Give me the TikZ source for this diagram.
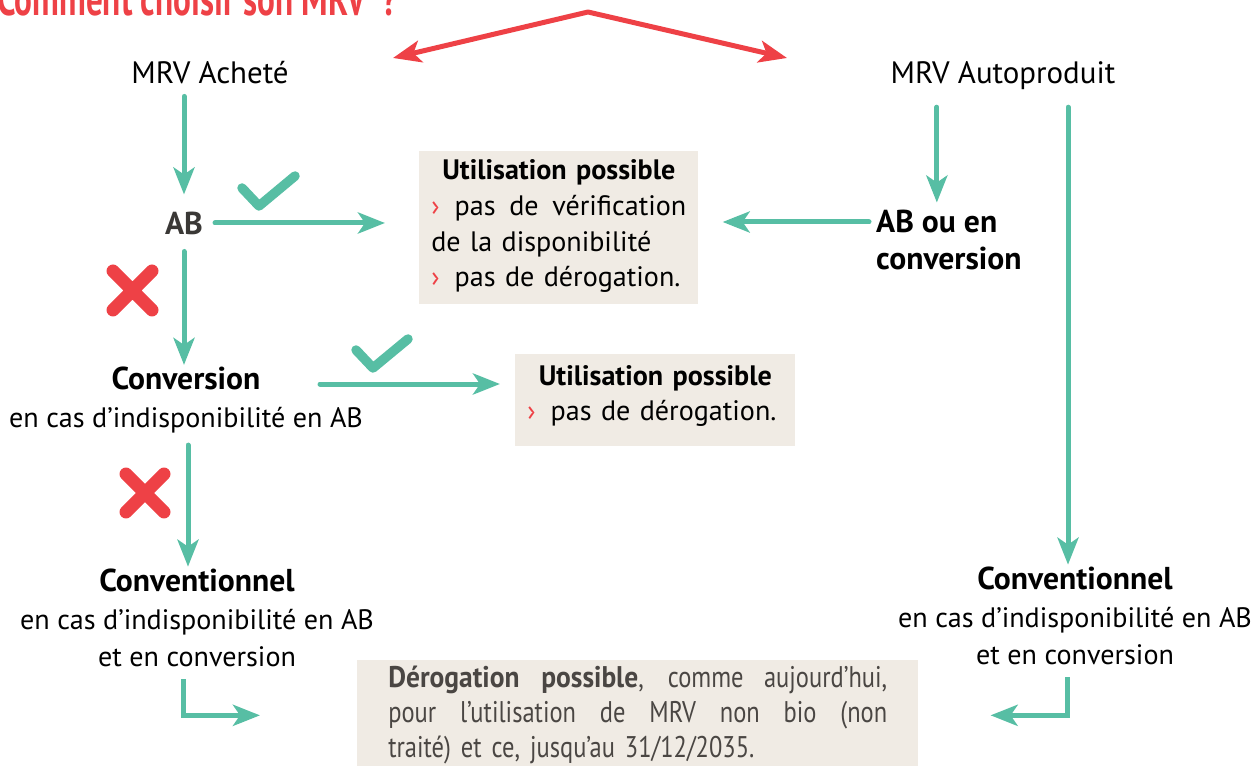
\documentclass[tikz,border=0pt]{standalone}
\usepackage{fontspec}
\setmainfont{PT Sans}
\newfontfamily\narrowfont[FakeStretch=0.82]{PT Sans}
\newfontfamily\narrowgras[FakeStretch=0.92]{PT Sans}
\newfontfamily\titlefont[FakeStretch=0.7]{PT Sans}
\usetikzlibrary{arrows.meta,positioning,calc}
\definecolor{vert}{HTML}{57BEA4}
\definecolor{rouge}{HTML}{EE4146}
\definecolor{beige}{HTML}{F0EBE4}
\definecolor{grisab}{HTML}{3A3836}
\definecolor{gristexte}{HTML}{4A4643}
\newcommand\puce{\textcolor{rouge}{›}\hspace{0.3cm}}
\newcommand\gras[1]{{\fontsize{18}{21.5}\selectfont\bfseries #1}}
\newcommand\ligne[1]{{\spaceskip=0pt\xspaceskip=0pt\makebox[\hsize][s]{#1}}}
\tikzset{
  lbl/.style={inner sep=1pt, align=center, font=\fontsize{16}{21.5}\selectfont},
  choix/.style={lbl, font=\fontsize{17.6}{21.5}\selectfont},
  boite/.style={fill=beige, inner xsep=0.24cm, inner ysep=0.1cm, align=left, font=\fontsize{16}{20}\selectfont},
  flow/.style={draw=vert, line width=0.1cm, -{Stealth[length=0.54cm,width=0.42cm,inset=0.14cm]}},
  flecherouge/.style={draw=rouge, line width=0.1cm, line join=round, {Stealth[length=0.56cm,width=0.44cm,inset=0.14cm]}-{Stealth[length=0.56cm,width=0.44cm,inset=0.14cm]}},
  ok/.style={draw=vert, line width=0.19cm, line cap=round, line join=round},
  non/.style={draw=rouge, line width=0.26cm, line cap=round},
}
\begin{document}
\begin{tikzpicture}[x=0.02cm, y=-0.02cm, line cap=round]
  \useasboundingbox (0,0) rectangle (1254,766);
  % titre (coupé en haut)
  \node[anchor=base west, inner sep=0, text=rouge, font=\titlefont\bfseries\fontsize{27}{30}\selectfont] (titre) at (-3,16) {Comment choisir son MRV\,\,?};
  \coordinate (pointeA) at (393,58);
  \coordinate (sommet) at (588,12);
  \coordinate (pointeB) at (787,58);
  \draw[flecherouge] (pointeA) -- (sommet) -- (pointeB);

  % colonne MRV achete
  \node[choix] (achete) at (210,73) {MRV Acheté};
  \node[lbl, text=grisab] (ab) at (184,223) {\gras{AB}};
  \node[lbl] (conv) at (186,400) {\gras{Conversion}\\en cas d’indisponibilité en AB};
  \node[lbl] (conva) at (197,618) {\gras{Conventionnel}\\en cas d’indisponibilité en AB\\et en conversion};

  % colonne MRV autoproduit
  \node[choix] (auto) at (1003,76) {MRV Autoproduit};
  \node[lbl, anchor=west, align=left] (abconv) at (874,240) {\gras{AB ou en}\\\gras{conversion}};
  \node[lbl] (convb) at (1075,616) {\gras{Conventionnel}\\en cas d’indisponibilité en AB\\et en conversion};

  % encadres
  \node[boite, anchor=north west, text width=5.1cm, minimum height=3.06cm] (util1) at (419,151)
    {{\centering\bfseries Utilisation possible\par}\vspace{0.03cm}
     \ligne{\puce pas de vérification}\par
     de la disponibilité\par
     \puce pas de dérogation.\par\vspace{-0.5cm}\hbox{}};
  \node[boite, anchor=north west, text width=5.12cm, minimum height=1.84cm] (util2) at (515,354)
    {{\centering\bfseries Utilisation possible\par}
     \puce pas de dérogation.\par\vspace{-0.42cm}\hbox{}};
  \node[boite, anchor=north west, text width=9.98cm, inner xsep=0.62cm, minimum height=2.2cm, text=gristexte,
        font=\narrowfont\fontsize{17}{20}\selectfont] (deroga) at (357,660)
    {\ligne{{\narrowgras\bfseries Dérogation possible}, comme aujourd’hui,}\par
     \ligne{pour l’utilisation de MRV non bio (non}\par
     traité) et ce, jusqu’au 31/12/2035.};

  % fleches
  \draw[flow, shorten <=0.2cm] (achete.south -| ab.north) -- ([yshift=0.3cm]ab.north);
  \draw[flow, shorten <=0.2cm, shorten >=0.68cm] (ab.east) -- (ab.east -| util1.west);
  \coordinate (abentree) at ([yshift=0.36cm]abconv.west);
  \draw[flow, shorten <=0.1cm, shorten >=0.48cm] (abentree) -- (abentree -| util1.east);
  \draw[flow, shorten <=0.3cm] ([xshift=-0.24cm]auto.south -| abconv.north) -- ([xshift=-0.24cm, yshift=0.1cm]abconv.north);
  \draw[flow, shorten <=0.3cm] (auto.south -| 1068,0) -- (convb.north -| 1068,0);
  \draw[flow, shorten <=0.3cm] (ab.south) -- (ab.south |- conv.north);
  \coordinate (convsortie) at ([xshift=-0.9cm, yshift=0.32cm]conv.east);
  \draw[flow, shorten >=0.3cm] (convsortie) -- (convsortie -| util2.west);
  \draw[flow, shorten <=0.2cm] (conv.south -| 188,0) -- (conva.north -| 188,0);
  \draw[flow, shorten <=0.2cm, shorten >=1.94cm, line cap=butt] (conva.south -| 183,0) |- (deroga.west);
  \draw[flow, shorten <=0.2cm, shorten >=1.44cm, line cap=butt] (convb.south -| 1067,0) |- (deroga.east);

  % coches et croix
  \draw[ok] (242,188) -- (259,206) -- (295,176);
  \draw[ok] (356,350) -- (373,368) -- (408,339);
  \draw[non] (113,271) -- (152,310) (152,271) -- (113,310);
  \draw[non] (126,474) -- (164,512) (164,474) -- (126,512);
\end{tikzpicture}
\end{document}
